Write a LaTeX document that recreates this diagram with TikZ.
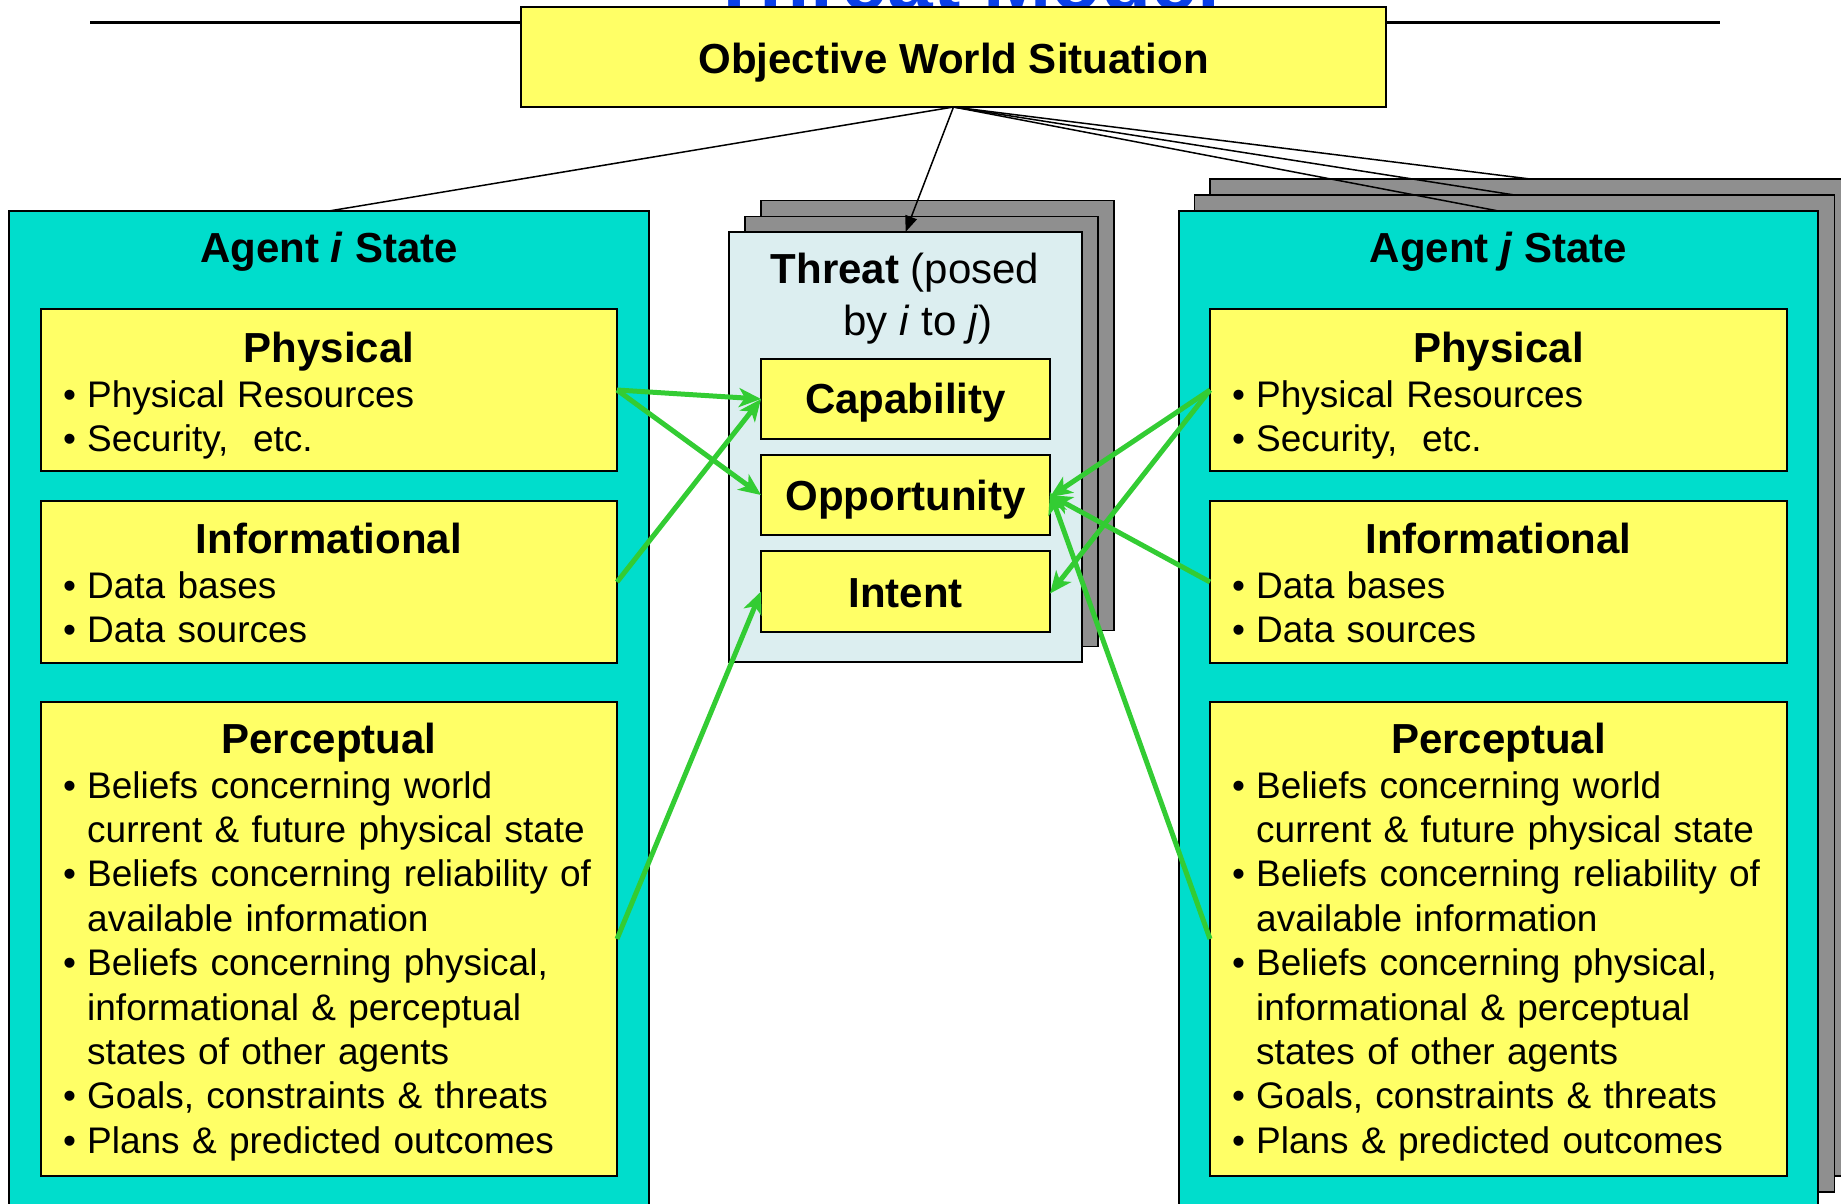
\documentclass[tikz,border=0pt]{standalone}
\usepackage{fontspec}
\setmainfont{Liberation Sans}
\usetikzlibrary{arrows.meta}
\definecolor{tealbox}{RGB}{0,221,204}
\definecolor{yelbox}{RGB}{255,255,102}
\definecolor{thrbox}{RGB}{220,238,240}
\definecolor{grybox}{RGB}{143,143,143}
\definecolor{grnarrow}{RGB}{51,204,51}
\definecolor{ttlblue}{RGB}{10,64,232}
\newcommand\bodyfnt{\fontsize{37}{44.4}\selectfont}
\newcommand\headfnt{\fontsize{42}{50}\selectfont\bfseries}
\newcommand\regfnt{\fontsize{42}{50}\selectfont}
\newcommand\bitem[1]{\hangindent=24pt\hangafter=1\noindent\makebox[24pt][l]{•}#1\par}
\newcommand\nl{\unskip\hfil\break}
\begin{document}
\begin{tikzpicture}[x=1pt,y=-1pt,
  boxstyle/.style={draw=black, line width=1.5pt, inner sep=0pt, outer sep=0pt},
  tealst/.style={boxstyle, fill=tealbox, minimum width=640, minimum height=997},
  grayst/.style={boxstyle, fill=grybox, minimum width=640, minimum height=997},
  yelst/.style={boxstyle, fill=yelbox, minimum width=576},
  thrst/.style={boxstyle, fill=thrbox, minimum width=353, minimum height=430},
  thrgray/.style={boxstyle, fill=grybox, minimum width=353, minimum height=430},
  tbox/.style={boxstyle, fill=yelbox, minimum width=289, minimum height=80},
  headtxt/.style={anchor=base, inner sep=0pt, font=\headfnt},
  regtxt/.style={anchor=base, inner sep=0pt, font=\regfnt},
  listtxt/.style={anchor=base west, inner sep=0pt, text width=560pt, align=left, font=\bodyfnt},
  thinline/.style={draw=black, line width=1.5pt},
  blackarrow/.style={thinline, -{Triangle[length=16pt,width=12pt]}},
  greenarrow/.style={draw=grnarrow, line width=5pt, -{Stealth[length=22pt,width=19pt,inset=6pt]}}
]
\useasboundingbox (0,0) rectangle (1841,1203);

% title (mostly hidden) and rule
\node[anchor=base, inner sep=0pt, text=ttlblue, font=\fontsize{82}{90}\selectfont\bfseries] (title) at (965,9) {Threat Model};
\coordinate (ruleL) at (90,22.5);
\coordinate (ruleR) at (1720,22.5);
\draw[line width=2.3pt] (ruleL) -- (ruleR);

% objective world situation
\node[boxstyle, fill=yelbox, minimum width=865, minimum height=100] (ows) at (953.5,57) {};
\node[headtxt] (owstxt) at (953.5,73) {Objective World Situation};

% agent i
\node[tealst] (agi) at (329,709.5) {};
\node[headtxt] (agitxt) at (329,262) {Agent \textit{i} State};
\node[yelst, minimum height=162] (phi) at (329,390) {};
\node[yelst, minimum height=162] (infi) at (329,582) {};
\node[yelst, minimum height=474] (peri) at (329,939) {};
\node[headtxt] (phit) at (329,362) {Physical};
\node[listtxt] (phil) at (63,407) {\bitem{Physical Resources}\bitem{Security,\ \ etc.}};
\node[headtxt] (infit) at (329,553) {Informational};
\node[listtxt] (infil) at (63,598) {\bitem{Data bases}\bitem{Data sources}};
\node[headtxt] (perit) at (329,753) {Perceptual};
\node[listtxt] (peril) at (63,798) {\bitem{Beliefs concerning world\nl current \& future physical state}\bitem{Beliefs concerning reliability of\nl available information}\bitem{Beliefs concerning physical,\nl informational \& perceptual\nl states of other agents}\bitem{Goals, constraints \& threats}\bitem{Plans \& predicted outcomes}};

% agent j (stacked)
\node[grayst] (agj2) at (1530,677.5) {};
\node[grayst] (agj1) at (1514.5,693.5) {};
\node[tealst, minimum width=639] (agj) at (1498.5,709.5) {};
\node[headtxt] (agjtxt) at (1498.5,262) {Agent \textit{j} State};
\node[yelst, minimum width=577, minimum height=162] (phj) at (1498.5,390) {};
\node[yelst, minimum width=577, minimum height=162] (infj) at (1498.5,582) {};
\node[yelst, minimum width=577, minimum height=474] (perj) at (1498.5,939) {};
\node[headtxt] (phjt) at (1498.5,362) {Physical};
\node[listtxt] (phjl) at (1232,407) {\bitem{Physical Resources}\bitem{Security,\ \ etc.}};
\node[headtxt] (infjt) at (1498.5,553) {Informational};
\node[listtxt] (infjl) at (1232,598) {\bitem{Data bases}\bitem{Data sources}};
\node[headtxt] (perjt) at (1498.5,753) {Perceptual};
\node[listtxt] (perjl) at (1232,798) {\bitem{Beliefs concerning world\nl current \& future physical state}\bitem{Beliefs concerning reliability of\nl available information}\bitem{Beliefs concerning physical,\nl informational \& perceptual\nl states of other agents}\bitem{Goals, constraints \& threats}\bitem{Plans \& predicted outcomes}};

% threat stack
\node[thrgray] (thr2) at (937.5,415.5) {};
\node[thrgray] (thr1) at (921.5,431.5) {};
\node[thrst] (thr) at (905.5,447) {};
\node[regtxt] (thrA) at (905,283) {\textbf{Threat} (posed};
\node[regtxt] (thrB) at (918,335) {by \textit{i} to \textit{j})};
\node[tbox] (cap) at (905.5,399) {};
\node[tbox] (opp) at (905.5,495) {};
\node[tbox, minimum height=81] (int) at (905.5,591.5) {};
\node[headtxt] (capt) at (905.5,413) {Capability};
\node[headtxt] (oppt) at (905.5,510) {Opportunity};
\node[headtxt] (intt) at (905.5,607) {Intent};

% connectors from objective world situation
\draw[thinline] (ows.south) -- (agi.north);
\draw[thinline] (ows.south) -- (agj.north);
\draw[thinline] (ows.south) -- (agj1.north);
\draw[thinline] (ows.south) -- (agj2.north);
\draw[blackarrow] (ows.south) -- (thr.north);

% green arrows
\draw[greenarrow] (phi.east) -- (cap.west);
\draw[greenarrow] (phi.east) -- (opp.west);
\draw[greenarrow] (infi.east) -- (cap.west);
\draw[greenarrow] (peri.east) -- (int.west);
\draw[greenarrow] (phj.west) -- ([yshift=-2pt]opp.east);
\draw[greenarrow] (phj.west) -- ([yshift=-2pt]int.east);
\draw[greenarrow] (infj.west) -- (opp.east);
\draw[greenarrow] (perj.west) -- ([yshift=3pt]opp.east);
\end{tikzpicture}
\end{document}
